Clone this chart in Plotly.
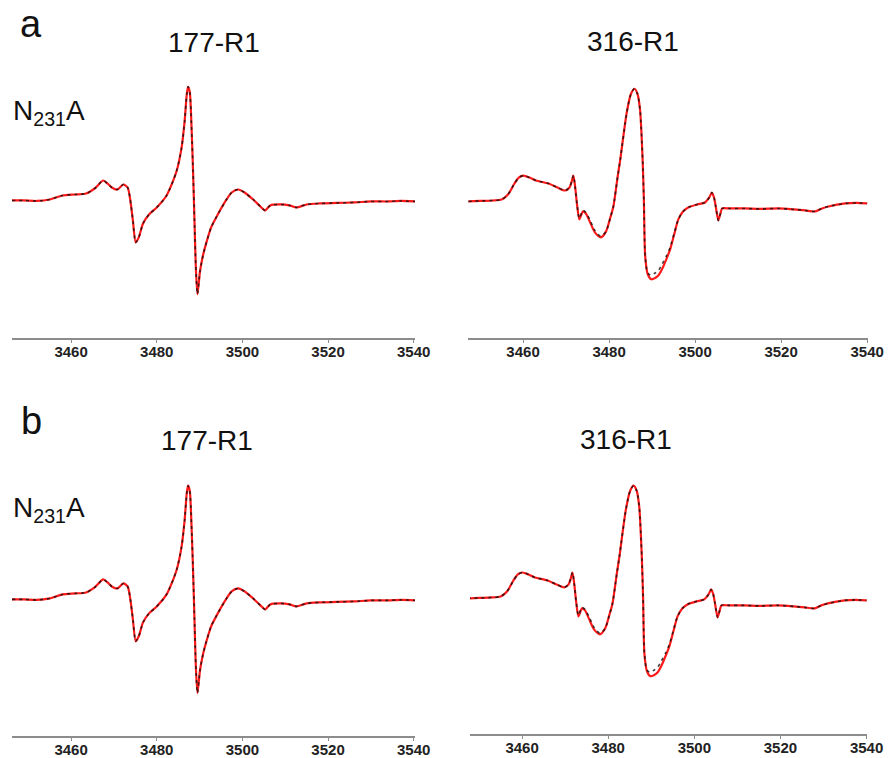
import plotly.graph_objects as go

# 177-R1 spectrum (field in G, intensity in arbitrary units)
field_177 = [3446.2, 3449, 3452, 3455, 3458, 3461, 3463.5, 3465.5, 3467.5, 3468.5,
             3469.5, 3470.8, 3472.2, 3473.2, 3473.8, 3474.4, 3475.1, 3475.8, 3476.8, 3478.2,
             3480, 3482.3, 3484.6, 3485.8, 3486.5, 3487.0, 3487.3, 3487.7, 3488.1, 3488.5,
             3488.8, 3489.1, 3489.5, 3490.1, 3490.8, 3491.6, 3492.7, 3494, 3496.3, 3497.5,
             3499, 3500.5, 3502.5, 3504.2, 3505.3, 3506.5, 3509, 3511, 3512.6, 3515,
             3518, 3522, 3526, 3530, 3534, 3537, 3540.3]
sim_177 = [-1, -1, -1.5, 0, 4, 5, 6, 11, 19, 16,
           12, 10, 15, 12, 0, -20, -43, -38, -24, -15,
           -8, 4, 28, 52, 78, 105, 113, 108, 75, 25,
           -20, -65, -95, -72, -56, -43, -28, -17, 0, 7,
           10, 7, 0, -7, -11, -6, -5, -6, -8, -5,
           -4, -3.5, -3, -2, -2, -1.5, -2]
exp_177 = sim_177

# 316-R1 spectrum
field_316 = [3447.3, 3450, 3453, 3455, 3456.5, 3458, 3459, 3460.1, 3461.5, 3463,
             3465.9, 3468, 3469.8, 3470.8, 3471.3, 3471.7, 3472.1, 3472.6, 3473.1, 3473.9,
             3474.6, 3475.5, 3476.7, 3478.1, 3479.3, 3480.3, 3481, 3482, 3482.6, 3484.1,
             3485.1, 3485.9, 3486.6, 3487.2, 3487.8, 3488.1, 3488.4, 3489.0, 3489.8, 3490.6,
             3491.5, 3492.3, 3493.3, 3494.2, 3495.2, 3496.1, 3497.2, 3498.4, 3500.5, 3502.3,
             3503.3, 3503.9, 3504.4, 3504.8, 3505.4, 3505.9, 3506.3, 3508, 3511.6, 3515,
             3519.4, 3523, 3525.6, 3527.9, 3529.5, 3531, 3534.9, 3537.5, 3540]
sim_316 = [0, 0.5, 1, 2, 7, 18, 24, 26, 24, 21,
           18, 14, 11, 14, 20, 26, 15, -5, -18, -10,
           -12, -20, -31, -36, -30, -16, -5, 25, 42, 89,
           108, 113, 108, 92, 42, 0, -55, -73, -78, -77,
           -74, -68, -58, -48, -32, -18, -10, -6, -3, -1,
           4, 9, 4, -5, -19, -12, -7, -7, -7, -7.5,
           -7, -8, -9, -10, -7, -5, -2, -1.5, -2]
exp_316 = [0, 0.5, 1, 2, 7, 18, 24, 26, 24, 21,
           18, 14, 11, 14, 20, 26, 15, -5, -17, -9,
           -11, -18, -29, -35, -30, -16, -5, 25, 42, 89,
           108, 113, 108, 92, 42, 0, -55, -72, -74, -72,
           -69, -63, -55, -46, -31, -18, -10, -6, -3, -1,
           4, 9, 4, -5, -19, -12, -7, -7, -7, -7.5,
           -7, -8, -9, -10, -7, -5, -2, -1.5, -2]

tick_vals = [3460, 3480, 3500, 3520, 3540]

W, H = 890, 758
W_DRAWN = 875  # width the page actually lays the figure out at


def px_x(p):
    return p / W_DRAWN


def px_y(p):
    return 1 - p / H


# (field, exp, sim, x-range, left px, right px, axis-line py, top py, baseline py)
panels = [
    (field_177, exp_177, sim_177, [3446.2, 3540.3], 12, 415, 339, 60, 200),
    (field_316, exp_316, sim_316, [3447.2, 3540.2], 468, 868, 339, 60, 202),
    (field_177, exp_177, sim_177, [3446.2, 3540.3], 12, 415, 738, 459, 600),
    (field_316, exp_316, sim_316, [3447.9, 3540.1], 470, 867, 736, 457, 600),
]

fig = go.Figure()
for i, (fx, exp, sim, xr, left, right, bottom, top, base) in enumerate(panels, start=1):
    suffix = "" if i == 1 else str(i)
    fig.add_scatter(x=fx, y=sim, mode="lines", xaxis="x" + suffix, yaxis="y" + suffix,
                    line=dict(color="#ff1a1a", width=2.2, shape="spline", smoothing=0.7),
                    showlegend=False, hoverinfo="skip")
    fig.add_scatter(x=fx, y=exp, mode="lines", xaxis="x" + suffix, yaxis="y" + suffix,
                    line=dict(color="#111111", width=1.6, shape="spline", smoothing=0.7,
                              dash="3px,4px"),
                    opacity=0.8, showlegend=False, hoverinfo="skip")
    fig.update_layout({
        "xaxis" + suffix: dict(
            domain=[px_x(left), min(px_x(right), 1)], range=xr, anchor="y" + suffix,
            showline=True, linecolor="#8c8c8c", linewidth=2, showgrid=False, zeroline=False,
            ticks="outside", ticklen=3, tickwidth=1, tickcolor="#8c8c8c",
            ticklabelstandoff=-4,
            tickvals=tick_vals, tickfont=dict(family="Arial, Liberation Sans", size=15,
                                              color="#222222", weight="bold"),
        ),
        "yaxis" + suffix: dict(
            domain=[px_y(bottom), px_y(top)], range=[base - bottom, base - top],
            anchor="x" + suffix, visible=False,
        ),
    })

font = "Arial, Liberation Sans"
labels = [
    ("a", 31, 24, 38), ("b", 31, 422, 38),
    ("177-R1", 214, 43, 28), ("316-R1", 633, 42, 28),
    ("177-R1", 207, 442, 28), ("316-R1", 626, 441, 28),
]
for text, px, py, size in labels:
    fig.add_annotation(text=text, x=px_x(px), y=px_y(py), xref="paper", yref="paper",
                       showarrow=False, xanchor="center", yanchor="middle",
                       font=dict(family=font, size=size, color="#111111"))
for py in (113, 511):
    fig.add_annotation(text="N<sub>231</sub>A", x=px_x(11), y=px_y(py), xref="paper",
                       yref="paper", showarrow=False, xanchor="left", yanchor="middle",
                       font=dict(family=font, size=28, color="#111111"))

fig.update_layout(width=W, height=H, autosize=False, margin=dict(l=0, r=0, t=0, b=0),
                  paper_bgcolor="white", plot_bgcolor="white")
# drop the default page margin and scrollbars so the figure fills the window exactly
fig.write_html(
    "out.html",
    config={"responsive": False, "displayModeBar": False},
    post_script="document.body.style.margin = '0';"
                "document.documentElement.style.overflow = 'hidden';",
)
